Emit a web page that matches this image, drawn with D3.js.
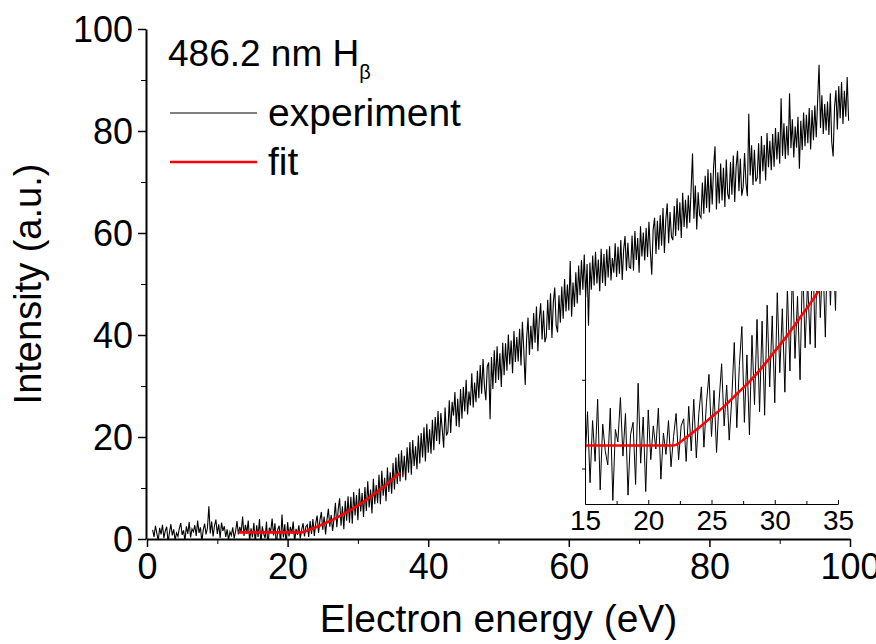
<!DOCTYPE html>
<html>
<head>
<meta charset="utf-8">
<script src="https://cdnjs.cloudflare.com/ajax/libs/d3/7.8.5/d3.min.js"></script>
<style>
body { margin: 0; background: #fff; }
svg { display: block; font-family: Arial, "Liberation Sans", sans-serif; }
</style>
</head>
<body>
<div id="chart"></div>
<script>
// experiment: one reading every 0.2 eV, first one at 0.8 eV
var energyStart = 0.8, energyStep = 0.2;
var intensity = [
  1.8, 0.4, 2.6, 1.1, -0.3, 2.2, 0.9, 2.8, 0.2, 1.6,
  2.4, -0.6, 1.3, 2.9, 0.7, 1.9, -0.2, 1.2, 0.5, 2.1,
  3.1, 0.8, 1.7, -0.4, 2.5, 1.0, 3.3, 0.3, 2.0, 1.4,
  2.7, 0.6, 3.6, 1.2, 2.3, -0.5, 1.8, 3.0, 0.9, 2.2,
  6.4, 1.1, 3.4, 0.5, 2.6, 3.8, 1.0, 2.9, 0.2, 3.2,
  1.6, 2.5, 0.4, 1.9, -0.2, 1.4, 0.7, 2.3, 0.1, 1.5,
  3.5, 0.9, 2.4, 1.3, 4.4, 0.6, 2.8, 1.1, 3.6, -0.4,
  2.1, 0.3, 3.2, -0.8, 2.7, 0.4, 3.9, -1.2, 2.5, 1.0,
  0.2, 3.4, -1.8, 2.2, 1.5, 4.0, 0.7, 3.1, -1.5, 1.9,
  2.6, -0.9, 4.8, 0.3, 2.9, -1.3, 3.3, 0.5, 2.4, 1.1,
  3.4, -0.6, 2.0, 0.8, 2.7, 0.1, 1.8, 3.1, 0.5, 2.4,
  2.8, 0.4, 3.5, 1.0, 3.9, 0.6, 3.1, 4.6, 1.2, 3.7,
  5.3, 1.8, 4.4, 0.9, 3.8, 5.9, 2.4, 4.7, 1.6, 3.9,
  7.1, 2.3, 5.8, 8.0, 2.6, 6.4, 1.9, 7.5, 3.6, 8.4,
  3.2, 8.3, 3.0, 9.2, 4.6, 8.6, 3.7, 9.9, 5.4, 9.0,
  4.3, 10.2, 5.5, 11.3, 6.2, 9.7, 5.0, 11.8, 6.8, 10.6,
  7.0, 12.6, 6.8, 13.4, 8.5, 12.0, 7.4, 14.0, 9.2, 13.1,
  8.9, 14.9, 9.7, 16.0, 10.8, 16.7, 11.3, 17.4, 12.1, 16.3,
  11.5, 18.0, 13.0, 19.0, 12.6, 19.4, 14.3, 18.2, 13.7, 20.3,
  14.8, 20.8, 16.0, 21.9, 15.2, 22.6, 16.9, 21.5, 16.7, 23.4,
  17.4, 23.9, 19.2, 25.1, 18.6, 24.7, 21.5, 17.9, 25.8, 20.3,
  21.0, 27.2, 20.8, 26.9, 24.2, 28.8, 22.1, 27.5, 21.9, 29.4,
  23.6, 29.8, 25.0, 31.2, 24.4, 28.9, 26.2, 32.5, 25.8, 30.7,
  26.8, 33.0, 27.6, 34.1, 28.5, 35.3, 29.9, 27.2, 33.8, 34.6,
  23.5, 35.7, 29.4, 37.0, 30.6, 37.8, 31.2, 36.4, 29.8, 38.5,
  32.1, 38.4, 33.0, 40.1, 34.2, 38.9, 32.5, 40.8, 34.7, 39.6,
  34.8, 41.2, 34.0, 42.6, 36.9, 30.2, 39.3, 43.4, 36.1, 41.8,
  37.2, 44.3, 38.5, 45.6, 36.8, 43.0, 46.2, 39.1, 44.8, 38.6,
  39.7, 46.9, 41.0, 48.2, 39.4, 46.4, 49.3, 41.9, 40.5, 47.8,
  42.4, 49.5, 43.2, 51.0, 44.6, 49.9, 44.8, 54.5, 43.6, 50.3,
  45.5, 52.3, 46.2, 53.6, 47.8, 54.7, 48.9, 55.8, 47.4, 53.9,
  41.8, 54.2, 48.9, 55.6, 49.7, 56.3, 50.1, 54.8, 48.6, 56.9,
  50.2, 55.9, 49.6, 56.8, 51.3, 57.4, 50.7, 55.1, 52.2, 58.0,
  51.4, 57.3, 52.0, 58.6, 50.8, 56.7, 59.4, 52.6, 58.1, 53.3,
  53.1, 59.5, 52.6, 60.4, 54.7, 59.0, 52.2, 61.3, 55.4, 60.1,
  54.6, 61.0, 55.3, 62.2, 56.4, 51.8, 60.7, 63.0, 55.9, 62.4,
  56.7, 63.5, 57.5, 64.9, 56.1, 62.6, 65.8, 58.0, 64.1, 59.3,
  58.6, 65.3, 59.4, 66.8, 60.5, 66.0, 59.0, 67.9, 61.2, 66.5,
  60.9, 67.4, 62.0, 68.6, 75.6, 62.8, 69.3, 60.7, 68.0, 63.5,
  63.0, 69.9, 63.8, 71.2, 64.9, 72.5, 64.0, 71.8, 65.6, 73.1,
  77.0, 64.6, 71.9, 65.8, 73.6, 66.4, 72.8, 65.1, 74.4, 67.7,
  66.6, 73.9, 67.5, 75.2, 66.1, 73.0, 76.1, 68.2, 74.6, 67.3,
  69.0, 75.7, 69.8, 67.2, 83.4, 71.3, 77.2, 69.4, 76.3, 70.1,
  70.8, 77.6, 69.6, 79.0, 72.1, 77.3, 70.3, 79.6, 72.9, 78.1,
  72.3, 79.4, 73.0, 80.6, 74.4, 79.8, 73.6, 86.4, 75.1, 81.5,
  74.5, 81.0, 75.2, 87.4, 76.6, 82.3, 74.8, 80.9, 76.7, 82.8,
  72.6, 82.0, 76.3, 83.6, 77.0, 83.2, 77.6, 84.5, 76.4, 84.1,
  78.2, 85.0, 78.8, 86.2, 93.0, 80.6, 87.0, 79.4, 85.3, 80.1,
  85.8, 79.2, 87.4, 77.9, 75.0, 84.6, 88.0, 80.3, 88.8, 82.5,
  89.6, 81.4, 87.9, 82.8, 90.6, 82.0
];

// threshold fit, flat below ~22 eV
var fitEnergy    = [13, 14, 15, 16, 17, 18, 19, 20, 21, 22, 23, 24, 25, 26, 27, 28, 29, 30, 31, 32, 33, 34, 35, 36];
var fitIntensity = [1.3, 1.3, 1.3, 1.3, 1.3, 1.3, 1.3, 1.3, 1.3, 1.3, 1.75, 2.3, 2.9, 3.5, 4.2, 4.9, 5.7, 6.6, 7.5, 8.5, 9.5, 10.6, 11.8, 13.0];

var xTicks = [0, 20, 40, 60, 80, 100], xMinor = [10, 30, 50, 70, 90];
var yTicks = [0, 20, 40, 60, 80, 100], yMinor = [10, 30, 50, 70, 90];
var insetXTicks = [15, 20, 25, 30, 35], insetXMinor = [17.5, 22.5, 27.5, 32.5];
var insetYTicks = [0, 5];

var legendTitle = "486.2 nm H", legendSub = "\u03b2";
var legendLabels = ["experiment", "fit"];

var data = intensity.map(function(v, i) {
  return {e: +(energyStart + i * energyStep).toFixed(1), v: v};
});
var fit = fitEnergy.map(function(e, i) { return {e: e, v: fitIntensity[i]}; });

var widthT = 876, heightT = 644;
var margin = {top: 29, right: 26, bottom: 105, left: 147},
    width = widthT - margin.left - margin.right,
    height = heightT - margin.top - margin.bottom;

var inset = {left: 585, top: 291, width: 253, height: 213};

var svg = d3.select("#chart").append("svg")
    .attr("width", widthT)
    .attr("height", heightT);

var x = d3.scaleLinear().domain([0, 100]).range([0, width]),
    y = d3.scaleLinear().domain([0, 100]).range([height, 0]),
    xi = d3.scaleLinear().domain([15, 35]).range([0, inset.width]),
    yi = d3.scaleLinear().domain([-2, 10]).range([inset.height, 0]);

var defs = svg.append("defs");
defs.append("clipPath").attr("id", "clip")
  .append("rect").attr("width", width).attr("height", height);
defs.append("clipPath").attr("id", "clipInset")
  .append("rect").attr("width", inset.width).attr("height", inset.height);

var focus = svg.append("g")
    .attr("transform", "translate(" + margin.left + "," + margin.top + ")");

var line = d3.line().x(function(d) { return x(d.e); }).y(function(d) { return y(d.v); });
var lineInset = d3.line().x(function(d) { return xi(d.e); }).y(function(d) { return yi(d.v); });

function styleAxis(g, size) {
  g.attr("font-size", size).attr("font-family", "Arial, 'Liberation Sans', sans-serif");
  g.selectAll("path, line").attr("stroke", "#000");
}

// main plot
focus.append("path")
  .datum(data)
  .attr("clip-path", "url(#clip)")
  .attr("fill", "none")
  .attr("stroke", "#000")
  .attr("stroke-width", 1.1)
  .attr("d", line);

focus.append("path")
  .datum(fit)
  .attr("fill", "none")
  .attr("stroke", "#ff0000")
  .attr("stroke-width", 2.6)
  .attr("d", line.curve(d3.curveMonotoneX));
line.curve(d3.curveLinear);

focus.append("g")
  .attr("transform", "translate(0," + height + ")")
  .call(d3.axisBottom(x).tickValues(xMinor).tickSize(5).tickFormat(""))
  .call(styleAxis, 36)
  .select(".domain").remove();

focus.append("g")
  .attr("transform", "translate(-1,0)")
  .call(d3.axisLeft(y).tickValues(yMinor).tickSize(5).tickFormat(""))
  .call(styleAxis, 36)
  .select(".domain").remove();

var xAx = focus.append("g")
  .attr("transform", "translate(0," + height + ")")
  .call(d3.axisBottom(x).tickValues(xTicks).tickSize(8).tickSizeOuter(0).tickPadding(6))
  .call(styleAxis, 36);
xAx.select(".domain").attr("stroke-width", 2);
xAx.selectAll(".tick line").attr("stroke-width", 1.5);

var yAx = focus.append("g")
  .attr("transform", "translate(-1,0)")
  .call(d3.axisLeft(y).tickValues(yTicks).tickSize(8).tickSizeOuter(0).tickPadding(5))
  .call(styleAxis, 36);
yAx.select(".domain").attr("stroke-width", 2);
yAx.selectAll(".tick line").attr("stroke-width", 1.5);
yAx.selectAll(".tick text").attr("dy", "0.35em");

// axis titles
svg.append("text")
  .attr("x", margin.left + width / 2)
  .attr("y", 632)
  .attr("text-anchor", "middle")
  .attr("font-size", 39)
  .text("Electron energy (eV)");

svg.append("text")
  .attr("transform", "translate(41," + (margin.top + height / 2) + ") rotate(-90)")
  .attr("text-anchor", "middle")
  .attr("font-size", 38)
  .text("Intensity (a.u.)");

// legend
var legend = svg.append("g").attr("font-size", 37);
var t = legend.append("text").attr("x", 168).attr("y", 66).text(legendTitle);
t.append("tspan").attr("font-size", 20).attr("dy", 13).text(legendSub);

legend.append("line")
  .attr("x1", 170).attr("x2", 257).attr("y1", 113).attr("y2", 113)
  .attr("stroke", "#000").attr("stroke-width", 1);
legend.append("text").attr("x", 268).attr("y", 126).attr("font-size", 39).text(legendLabels[0]);

legend.append("line")
  .attr("x1", 170).attr("x2", 257).attr("y1", 162).attr("y2", 162)
  .attr("stroke", "#ff0000").attr("stroke-width", 2.6);
legend.append("text").attr("x", 268).attr("y", 175).attr("font-size", 39).text(legendLabels[1]);

// inset (zoom on the threshold)
var ins = svg.append("g")
  .attr("transform", "translate(" + inset.left + "," + inset.top + ")");

ins.append("path")
  .datum(data.filter(function(d) { return d.e >= 14.6 && d.e <= 35.4; }))
  .attr("clip-path", "url(#clipInset)")
  .attr("fill", "none")
  .attr("stroke", "#000")
  .attr("stroke-width", 1)
  .attr("d", lineInset);

ins.append("path")
  .datum(fit.filter(function(d) { return d.e >= 15; }))
  .attr("clip-path", "url(#clipInset)")
  .attr("fill", "none")
  .attr("stroke", "#ff0000")
  .attr("stroke-width", 2.6)
  .attr("d", lineInset.curve(d3.curveMonotoneX));

ins.append("g")
  .attr("transform", "translate(0," + inset.height + ")")
  .call(d3.axisTop(xi).tickValues(insetXMinor).tickSize(3).tickFormat(""))
  .call(styleAxis, 28)
  .select(".domain").remove();

var xiAx = ins.append("g")
  .attr("transform", "translate(0," + inset.height + ")")
  .call(d3.axisBottom(xi).tickValues(insetXTicks).tickSize(0).tickSizeOuter(0).tickPadding(6))
  .call(styleAxis, 28);
xiAx.selectAll(".tick").append("line").attr("y2", -4).attr("stroke", "#000");

ins.append("g")
  .call(d3.axisLeft(yi).tickValues(insetYTicks).tickSize(3).tickSizeOuter(0).tickFormat(""))
  .call(styleAxis, 28);
</script>
</body>
</html>
